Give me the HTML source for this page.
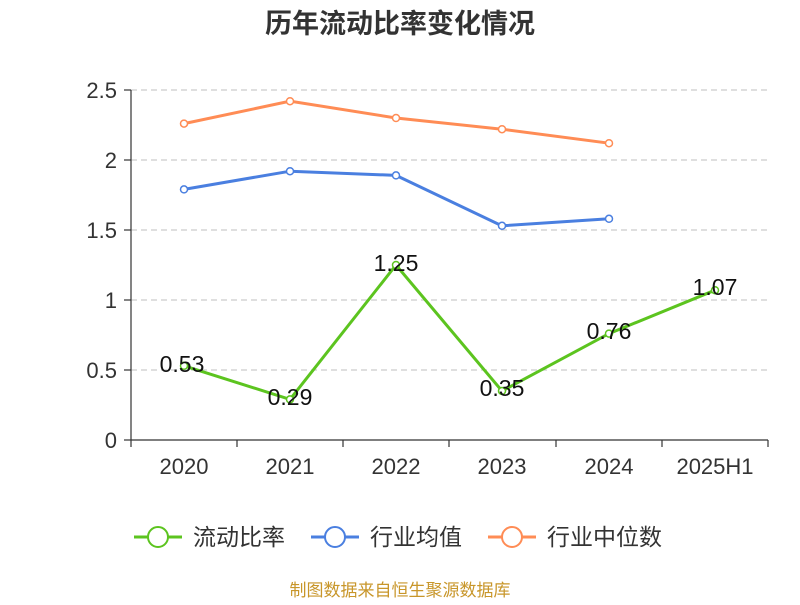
<!DOCTYPE html>
<html><head><meta charset="utf-8"><style>
body{margin:0;background:#fff;}
svg{font-family:"Liberation Sans","Noto Sans CJK SC",sans-serif;}
</style></head><body>
<svg width="800" height="600" viewBox="0 0 800 600" xmlns="http://www.w3.org/2000/svg">
<text x="400" y="33" text-anchor="middle" font-size="27" font-weight="bold" fill="#333">历年流动比率变化情况</text>
<g stroke="#ccc" stroke-dasharray="6,4" stroke-width="1.2">
<line x1="131" y1="90" x2="768" y2="90"/><line x1="131" y1="160" x2="768" y2="160"/>
<line x1="131" y1="230" x2="768" y2="230"/><line x1="131" y1="300" x2="768" y2="300"/>
<line x1="131" y1="370" x2="768" y2="370"/>
</g>
<g stroke="#333" stroke-width="1.2">
<line x1="131" y1="90" x2="131" y2="440"/>
<line x1="124" y1="90" x2="131" y2="90"/><line x1="124" y1="160" x2="131" y2="160"/><line x1="124" y1="230" x2="131" y2="230"/><line x1="124" y1="300" x2="131" y2="300"/><line x1="124" y1="370" x2="131" y2="370"/><line x1="124" y1="440" x2="131" y2="440"/>
<line x1="131" y1="440" x2="768" y2="440"/>
<line x1="131" y1="440" x2="131" y2="447"/><line x1="237" y1="440" x2="237" y2="447"/><line x1="343" y1="440" x2="343" y2="447"/><line x1="449" y1="440" x2="449" y2="447"/><line x1="556" y1="440" x2="556" y2="447"/><line x1="662" y1="440" x2="662" y2="447"/><line x1="768" y1="440" x2="768" y2="447"/>
</g>
<g font-size="22" fill="#333" text-anchor="end">
<text x="117" y="98">2.5</text><text x="117" y="168">2</text><text x="117" y="238">1.5</text><text x="117" y="308">1</text><text x="117" y="378">0.5</text><text x="117" y="448">0</text>
</g>
<g font-size="22" fill="#333" text-anchor="middle">
<text x="184" y="474">2020</text><text x="290" y="474">2021</text><text x="396" y="474">2022</text><text x="502" y="474">2023</text><text x="609" y="474">2024</text><text x="715" y="474">2025H1</text>
</g>
<g fill="none" stroke-width="3">
<polyline stroke="#ff8c55" points="184,123.6 290,101.2 396,118 502,129.2 609,143.2"/>
<polyline stroke="#4a7fe0" points="184,189.4 290,171.2 396,175.4 502,225.8 609,218.8"/>
<polyline stroke="#5cc41f" points="184,365.8 290,399.4 396,265 502,391 609,333.6 715,290.2"/>
</g>
<g fill="#fff" stroke-width="1.5">
<g stroke="#ff8c55"><circle cx="184" cy="123.6" r="3.5"/><circle cx="290" cy="101.2" r="3.5"/><circle cx="396" cy="118" r="3.5"/><circle cx="502" cy="129.2" r="3.5"/><circle cx="609" cy="143.2" r="3.5"/></g>
<g stroke="#4a7fe0"><circle cx="184" cy="189.4" r="3.5"/><circle cx="290" cy="171.2" r="3.5"/><circle cx="396" cy="175.4" r="3.5"/><circle cx="502" cy="225.8" r="3.5"/><circle cx="609" cy="218.8" r="3.5"/></g>
<g stroke="#5cc41f"><circle cx="184" cy="365.8" r="3.5"/><circle cx="290" cy="399.4" r="3.5"/><circle cx="396" cy="265" r="3.5"/><circle cx="502" cy="391" r="3.5"/><circle cx="609" cy="333.6" r="3.5"/><circle cx="715" cy="290.2" r="3.5"/></g>
</g>
<g font-size="23" fill="#111" text-anchor="middle">
<text x="182" y="372">0.53</text><text x="290" y="405">0.29</text><text x="396" y="271">1.25</text><text x="502" y="396">0.35</text><text x="609" y="339">0.76</text><text x="715" y="295">1.07</text>
</g>
<g font-size="23" fill="#333">
<line x1="134" y1="537" x2="182" y2="537" stroke="#5cc41f" stroke-width="3"/><circle cx="158" cy="537" r="10" fill="#fff" stroke="#5cc41f" stroke-width="2"/>
<text x="193" y="545">流动比率</text>
<line x1="311" y1="537" x2="359" y2="537" stroke="#4a7fe0" stroke-width="3"/><circle cx="335" cy="537" r="10" fill="#fff" stroke="#4a7fe0" stroke-width="2"/>
<text x="370" y="545">行业均值</text>
<line x1="488" y1="537" x2="536" y2="537" stroke="#ff8c55" stroke-width="3"/><circle cx="512" cy="537" r="10" fill="#fff" stroke="#ff8c55" stroke-width="2"/>
<text x="547" y="545">行业中位数</text>
</g>
<text x="400" y="596" text-anchor="middle" font-size="17" fill="#c8962a">制图数据来自恒生聚源数据库</text>
</svg>
</body></html>
